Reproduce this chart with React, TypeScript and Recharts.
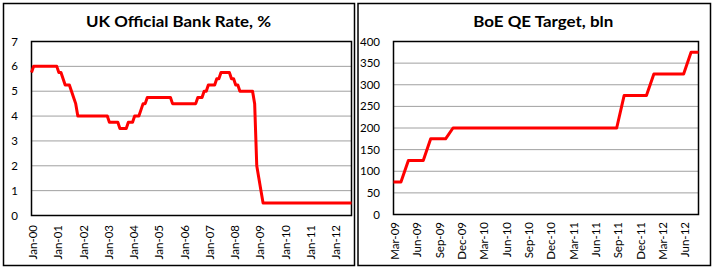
import { LineChart, Line, XAxis, YAxis, CartesianGrid, ReferenceArea } from 'recharts';

// UK official bank rate, %, monthly Jan-00 .. Sep-12
const bankRate = [
  5.75, 6, 6, 6, 6, 6, 6, 6, 6, 6, 6, 6, // 2000
  6, 5.75, 5.75, 5.5, 5.25, 5.25, 5.25, 5, 4.75, 4.5, 4, 4, // 2001
  4, 4, 4, 4, 4, 4, 4, 4, 4, 4, 4, 4, // 2002
  4, 3.75, 3.75, 3.75, 3.75, 3.75, 3.5, 3.5, 3.5, 3.5, 3.75, 3.75, // 2003
  3.75, 4, 4, 4, 4.25, 4.5, 4.5, 4.75, 4.75, 4.75, 4.75, 4.75, // 2004
  4.75, 4.75, 4.75, 4.75, 4.75, 4.75, 4.75, 4.5, 4.5, 4.5, 4.5, 4.5, // 2005
  4.5, 4.5, 4.5, 4.5, 4.5, 4.5, 4.5, 4.75, 4.75, 4.75, 5, 5, // 2006
  5.25, 5.25, 5.25, 5.25, 5.5, 5.5, 5.75, 5.75, 5.75, 5.75, 5.75, 5.5, // 2007
  5.5, 5.25, 5.25, 5, 5, 5, 5, 5, 5, 5, 4.5, 2, // 2008
  1.5, 1, 0.5, 0.5, 0.5, 0.5, 0.5, 0.5, 0.5, 0.5, 0.5, 0.5, // 2009
  0.5, 0.5, 0.5, 0.5, 0.5, 0.5, 0.5, 0.5, 0.5, 0.5, 0.5, 0.5, // 2010
  0.5, 0.5, 0.5, 0.5, 0.5, 0.5, 0.5, 0.5, 0.5, 0.5, 0.5, 0.5, // 2011
  0.5, 0.5, 0.5, 0.5, 0.5, 0.5, 0.5, 0.5, 0.5, // 2012
];
const rateLabels = ['Jan-00', 'Jan-01', 'Jan-02', 'Jan-03', 'Jan-04', 'Jan-05', 'Jan-06',
  'Jan-07', 'Jan-08', 'Jan-09', 'Jan-10', 'Jan-11', 'Jan-12'];
const rateTicks = [0, 1, 2, 3, 4, 5, 6, 7];

// BoE QE target, bln, monthly Mar-09 .. Aug-12
const qeTarget = [
  75, 75, 125, 125, 125, 175, 175, 175, 200, 200, // 2009
  200, 200, 200, 200, 200, 200, 200, 200, 200, 200, 200, 200, // 2010
  200, 200, 200, 200, 200, 200, 200, 200, 200, 275, 275, 275, // 2011
  275, 325, 325, 325, 325, 325, 375, 375, // 2012
];
const qeLabels = ['Mar-09', 'Jun-09', 'Sep-09', 'Dec-09', 'Mar-10', 'Jun-10', 'Sep-10',
  'Dec-10', 'Mar-11', 'Jun-11', 'Sep-11', 'Dec-11', 'Mar-12', 'Jun-12'];
const qeTicks = [0, 50, 100, 150, 200, 250, 300, 350, 400];

const FONT = 'Lato, "Noto Sans", sans-serif';
const RED = '#ff0000';
const GRID = '#a0a0a0';

const rateData = bankRate.map((v, i) => ({ i, v }));
const qeData = qeTarget.map((v, i) => ({ i, v }));

function rotTick(labels: string[], step: number) {
  return (props: any) => {
    const { x, y, payload } = props;
    const label = labels[Math.round(payload.value / step)];
    const tx = x + 1.5;
    return (
      <text
        x={tx}
        y={y}
        transform={`rotate(-90 ${tx} ${y})`}
        textAnchor="end"
        dy="0.36em"
        fill="#000"
        fontSize={11.5}
        fontFamily={FONT}
      >
        {label}
      </text>
    );
  };
}

const yTick = { fill: '#000', fontSize: 11.5, fontFamily: FONT };

export default function App() {
  const last = bankRate.length - 1;
  const qeLast = qeTarget.length - 1;
  return (
    <div style={{ position: 'absolute', left: 0, top: 0, width: 713, height: 268, background: '#fff' }}>
      <div style={{ position: 'absolute', left: 0, top: 0 }}>
        <LineChart width={356} height={268} data={rateData}
          margin={{ top: 41.5, right: 4.5, bottom: 5.5, left: 0 }}>
          <CartesianGrid vertical={false} stroke={GRID} />
          <XAxis type="number" dataKey="i" domain={[0, last]}
            ticks={rateLabels.map((_, k) => k * 12)} interval={0}
            tick={rotTick(rateLabels, 12)} tickLine={false} axisLine={false}
            tickSize={0} tickMargin={9.5} height={47} />
          <YAxis domain={[0, 7]} ticks={rateTicks} interval={0} width={31.5}
            tick={yTick} tickLine={false} axisLine={false} tickSize={0} tickMargin={13.5} />
          <ReferenceArea x1={0} x2={last} y1={0} y2={7} fill="none" stroke="#000" strokeWidth={1.5} />
          <Line dataKey="v" stroke={RED} strokeWidth={3} dot={false}
            strokeLinejoin="round" isAnimationActive={false} />
        </LineChart>
      </div>
      <div style={{ position: 'absolute', left: 357, top: 0 }}>
        <LineChart width={356} height={268} data={qeData}
          margin={{ top: 41.5, right: 14.5, bottom: 5.5, left: 0 }}>
          <CartesianGrid vertical={false} stroke={GRID} />
          <XAxis type="number" dataKey="i" domain={[0, qeLast]}
            ticks={qeLabels.map((_, k) => k * 3)} interval={0}
            tick={rotTick(qeLabels, 3)} tickLine={false} axisLine={false}
            tickSize={0} tickMargin={7.5} height={48} />
          <YAxis domain={[0, 400]} ticks={qeTicks} interval={0} width={36.5}
            tick={yTick} tickLine={false} axisLine={false} tickSize={0} tickMargin={13.5} />
          <ReferenceArea x1={0} x2={qeLast} y1={0} y2={400} fill="none" stroke="#000" strokeWidth={1.5} />
          <Line dataKey="v" stroke={RED} strokeWidth={3} dot={false}
            strokeLinejoin="round" isAnimationActive={false} />
        </LineChart>
      </div>
      <svg width={713} height={268} style={{ position: 'absolute', left: 0, top: 0, pointerEvents: 'none' }}>
        <rect x={3.5} y={3.5} width={351} height={262} fill="none" stroke="#000" strokeWidth={1.5} />
        <rect x={358} y={3.5} width={352.5} height={262} fill="none" stroke="#000" strokeWidth={1.5} />
        <text x={178.5} y={26.5} textAnchor="middle" fontFamily={FONT} fontWeight="bold"
          fontSize={16} textLength={185} lengthAdjust="spacingAndGlyphs" fill="#000">
          UK Official Bank Rate, %
        </text>
        <text x={543.3} y={26.5} textAnchor="middle" fontFamily={FONT} fontWeight="bold"
          fontSize={16} textLength={140} lengthAdjust="spacingAndGlyphs" fill="#000">
          BoE QE Target, bln
        </text>
      </svg>
    </div>
  );
}
